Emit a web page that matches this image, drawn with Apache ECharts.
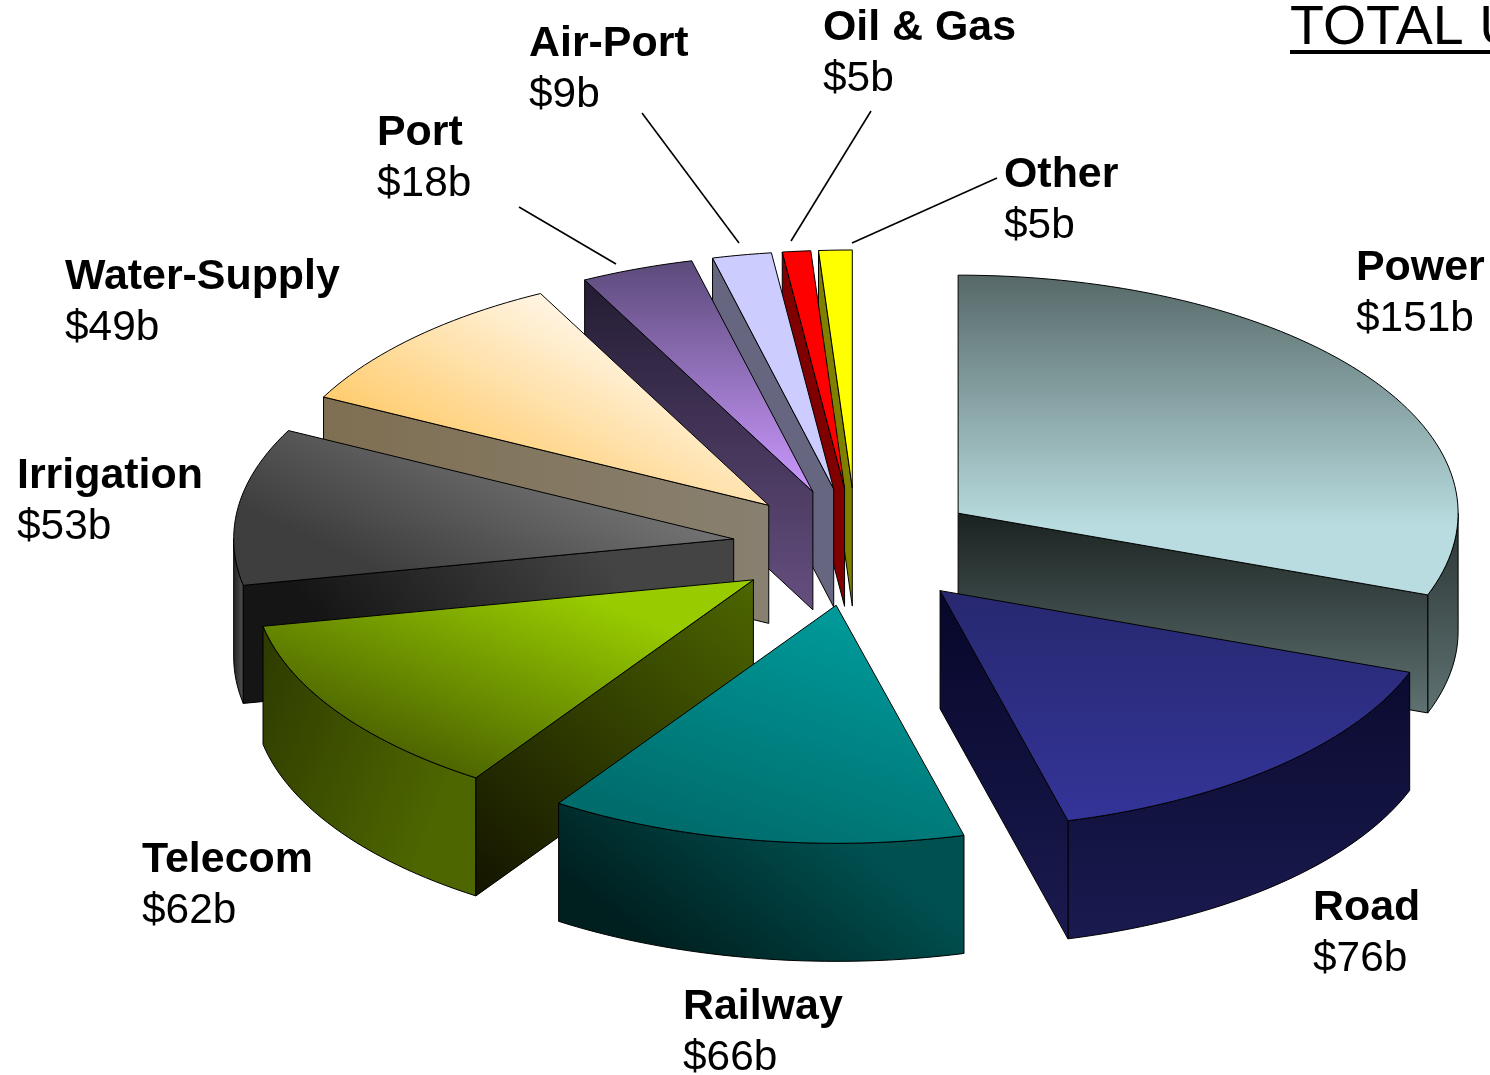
<!DOCTYPE html>
<html><head><meta charset="utf-8">
<style>html,body{margin:0;padding:0;background:#fff;overflow:hidden}#c{width:1490px;height:1075px}</style>
<script src="https://cdn.jsdelivr.net/npm/echarts@6/dist/echarts.min.js"></script>
</head><body><div id="c"></div>
<script>
// Data
const categories = ['Power','Road','Railway','Telecom','Irrigation','Water-Supply','Port','Air-Port','Oil & Gas','Other'];
const values = [150.8,75.5,66.49,61.7,52.5,49,18,9.4,4.5,5.31];
const valueLabels = ['$151b','$76b','$66b','$62b','$53b','$49b','$18b','$9b','$5b','$5b'];
const titleText = 'TOTAL U';

// Back-to-front paint order (indices into categories)
const paintOrder = [9,8,7,6,5,4,3,0,1,2];

// Projection: pie radius = 1 axis unit on both axes; axis extents set the ellipse
const EXPLODE = 0.248, DEPTH = 0.496;
const X_RANGE = [-1.713, 1.267], Y_RANGE = [-2.298, 2.218];

// Face gradients: [x, y, x2, y2, from, to]
const topFill = [
 [0,0,0,0.78,'#566868','#b8dcdf'],[0.2,0,0.2,1,'#27286f','#343499'],[0.4,1,0.6,0,'#006c6c','#009999'],
 [0.42,1,0.58,0,'#4d6600','#99cc00'],[0.35,1,0.5,0,'#3e3e3e','#707070'],[0.6,0,0.35,1,'#fffaf2','#ffc75f'],
 [0.5,0,0.5,1,'#5b4a7a','#cc99ff'],[0,0,0,1,'#ccccff','#ccccff'],[0,0,0,1,'#ff0000','#ff0000'],[0,0,0,1,'#ffff00','#ffff00']];
const wallFill = [
 [0,0,0,1,'#1a2220','#5f7272'],[0,0,0,1,'#07072a','#1a1a50'],null,
 [0,1,1,0,'#141400','#4d6600'],[0.3,1,0.7,0,'#151515','#444444'],[0,0,1,0,'#7f6f52','#888070'],
 [0,0,0,1,'#231c33','#664f80'],[0,0,0,1,'#666680','#666680'],[0,0,0,1,'#800000','#800000'],[0,0,0,1,'#808000','#808000']];
const arcFill = [
 [0,0,0,1,'#2a3333','#5f7272'],[0,0,0,1,'#0b0b30','#1a1a50'],[0.3,1,0.6,0,'#002020','#005050'],
 [0,0,1,0.3,'#2e3a00','#4d6600'],[0,0,1,0,'#222222','#555555'],null,null,null,null,null];

// Label anchors (px: left, name-centre y) and leader lines (px)
const labelX = [1356,1313,683,142,17,65,377,529,823,1004];
const labelY = [268,908,1007,860,476,277,133,44,28,175];
const leaders = {6:[[519,207],[616,264]],7:[[642,113],[739,243]],8:[[871,111],[791,241]],9:[[997,178],[852,243]]};

const total = values.reduce((a,b)=>a+b,0);
const RAD = Math.PI/180;
let acc = 0;
const spans = values.map(v=>{const s=[acc,acc+v/total*360];acc=s[1];return s;});

function grad(g){return new echarts.graphic.LinearGradient(g[0],g[1],g[2],g[3],[{offset:0,color:g[4]},{offset:1,color:g[5]}]);}
const LINE = {stroke:'#000',lineWidth:1,lineJoin:'round'};

function renderSlice(params, api){
  const i = api.value(0), a = spans[i][0], b = spans[i][1], m=(a+b)/2;
  const cx = EXPLODE*Math.sin(m*RAD), cy = -EXPLODE*Math.cos(m*RAD);
  const plan=(t,z)=>api.coord([cx+Math.sin(t*RAD), cy-Math.cos(t*RAD)+(z||0)]);
  const apex=(z)=>api.coord([cx,cy+(z||0)]);
  const arc=(from,to,z)=>{const n=Math.max(2,Math.ceil(Math.abs(to-from)/1.5)),r=[];
    for(let k=0;k<=n;k++)r.push(plan(from+(to-from)*k/n,z));return r;};
  const kids=[];
  const poly=(pts,g)=>kids.push({type:'polygon',shape:{points:pts},style:Object.assign({fill:grad(g)},LINE)});
  // outer wall, only the part facing the viewer
  const s0=Math.max(a,90), s1=Math.min(b,270);
  if(s1>s0 && arcFill[i]) poly(arc(s0,s1,0).concat(arc(s1,s0,DEPTH)),arcFill[i]);
  // radial walls
  if(Math.sin(a*RAD)<-1e-6 && wallFill[i]) poly([apex(),plan(a),plan(a,DEPTH),apex(DEPTH)],wallFill[i]);
  if(Math.sin(b*RAD)>1e-6 && wallFill[i]) poly([apex(),plan(b),plan(b,DEPTH),apex(DEPTH)],wallFill[i]);
  // top face
  poly([apex()].concat(arc(a,b,0)),topFill[i]);
  return {type:'group',children:kids};
}

function renderLabel(params, api){
  const i = api.value(0), kids=[];
  kids.push({type:'text',style:{x:labelX[i],y:labelY[i],text:categories[i],fill:'#000',font:'bold 42.9px "Liberation Sans"',verticalAlign:'middle'}});
  kids.push({type:'text',style:{x:labelX[i],y:labelY[i]+51,text:valueLabels[i],fill:'#000',font:'42.4px "Liberation Sans"',verticalAlign:'middle'}});
  if(leaders[i]) kids.push({type:'line',shape:{x1:leaders[i][0][0],y1:leaders[i][0][1],x2:leaders[i][1][0],y2:leaders[i][1][1]},style:{stroke:'#000',lineWidth:1.6}});
  return {type:'group',children:kids};
}

const chart = echarts.init(document.getElementById('c'),null,{renderer:'canvas'});
chart.setOption({
  animation:false,
  backgroundColor:'#fff',
  grid:{left:0,right:0,top:0,bottom:0},
  xAxis:{type:'value',min:X_RANGE[0],max:X_RANGE[1],show:false},
  yAxis:{type:'value',inverse:true,min:Y_RANGE[0],max:Y_RANGE[1],show:false},
  graphic:[
    {type:'text',left:1290,top:1,style:{text:titleText,fill:'#000',font:'55.5px "Liberation Sans"'}},
    {type:'rect',left:1290,top:50,shape:{width:200,height:4},style:{fill:'#000'}}
  ],
  series:[
    {type:'custom',silent:true,clip:false,renderItem:renderSlice,data:paintOrder.map(i=>[i]),encode:{x:[],y:[]}},
    {type:'custom',silent:true,clip:false,renderItem:renderLabel,data:categories.map((c,i)=>[i]),encode:{x:[],y:[]}}
  ]
});
</script></body></html>
